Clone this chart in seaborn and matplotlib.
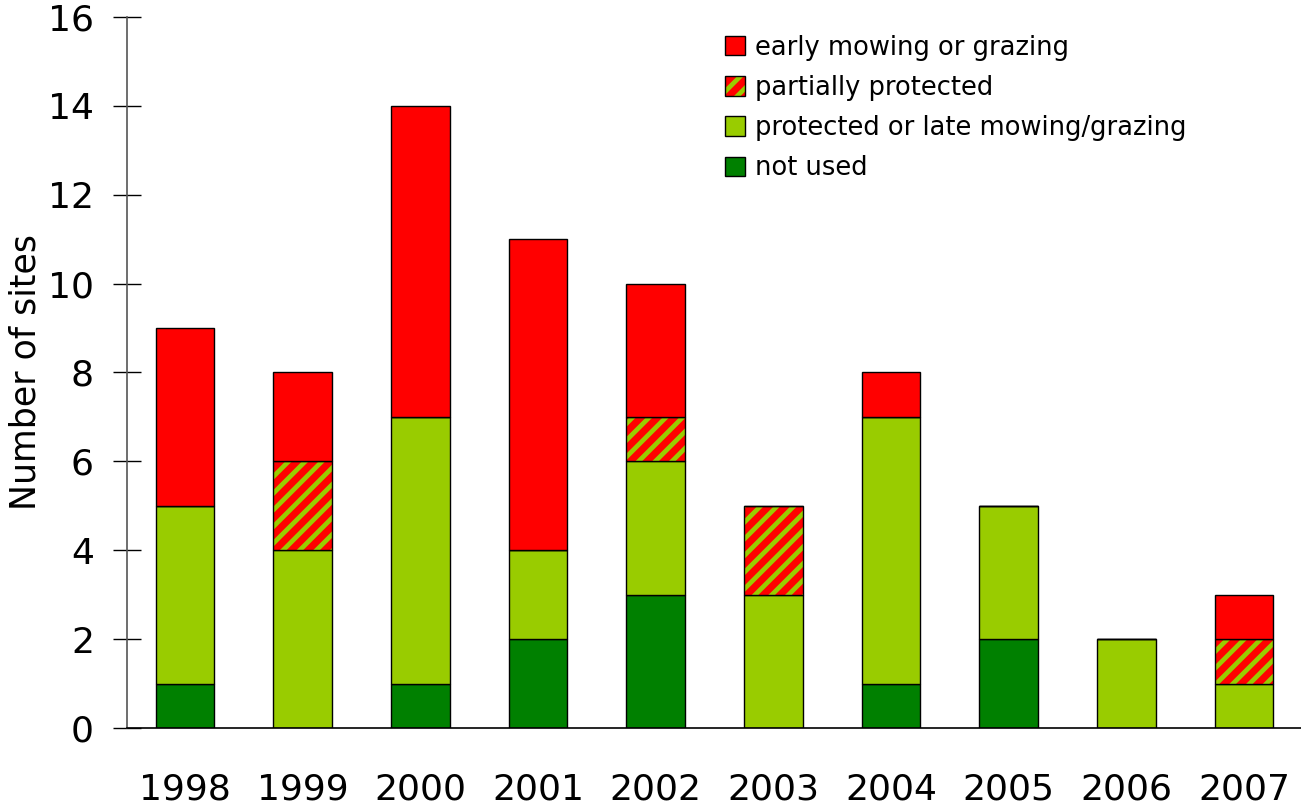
import matplotlib
matplotlib.use("Agg")
import matplotlib.pyplot as plt
import seaborn as sns
import numpy as np
from matplotlib.patches import Patch

# =========================
# Data
# =========================
years = ["1998", "1999", "2000", "2001", "2002", "2003", "2004", "2005", "2006", "2007"]
not_used = [1, 0, 1, 2, 3, 0, 1, 2, 0, 0]
protected_late = [4, 4, 6, 2, 3, 3, 6, 3, 2, 1]
partially = [0, 2, 0, 0, 1, 2, 0, 0, 0, 1]
early = [4, 2, 7, 7, 3, 0, 1, 0, 0, 1]

red = "#FF0000"
light_green = "#99CC00"
dark_green = "#008000"

sns.set_style("white")
plt.rcParams["font.family"] = ["DejaVu Sans"]
plt.rcParams["text.color"] = "black"
plt.rcParams["axes.labelcolor"] = "black"
plt.rcParams["xtick.color"] = "black"
plt.rcParams["ytick.color"] = "black"
plt.rcParams["hatch.linewidth"] = 3.4

fig = plt.figure(figsize=(13.01, 8.08), dpi=100)
ax = fig.add_axes([0.0976, 0.099, 0.9024, 0.880])

b1 = np.array(not_used)
b2 = b1 + np.array(protected_late)
b3 = b2 + np.array(partially)

bar_kw = dict(width=0.5, saturation=1, ax=ax, order=years)

# not used
sns.barplot(x=years, y=not_used, color=dark_green, edgecolor="black", linewidth=1, **bar_kw)
# protected or late mowing/grazing
sns.barplot(x=years, y=protected_late, bottom=b1, color=light_green, edgecolor="black", linewidth=1, **bar_kw)
# partially protected: red face with green stripes, then a black outline on top
sns.barplot(x=years, y=partially, bottom=b2, color=red, edgecolor=light_green, hatch="//", linewidth=0, **bar_kw)
sns.barplot(x=years, y=partially, bottom=b2, color="black", fill=False, edgecolor="black", linewidth=1, **bar_kw)
# early mowing or grazing
sns.barplot(x=years, y=early, bottom=b3, color=red, edgecolor="black", linewidth=1, **bar_kw)

ax.set_xlim(-0.493, 9.484)
ax.set_ylim(0, 16)
ax.set_yticks(range(0, 17, 2))
ax.set_xlabel("")
ax.set_ylabel("Number of sites", fontsize=25, labelpad=4)

for s in ["top", "right"]:
    ax.spines[s].set_visible(False)
ax.spines["left"].set_color("#555555")
ax.spines["left"].set_linewidth(1.2)
ax.spines["bottom"].set_color("black")
ax.spines["bottom"].set_linewidth(1.2)

ax.tick_params(axis="y", direction="inout", length=19.5, width=1, color="black",
               labelsize=26, pad=14, left=True)
ax.tick_params(axis="x", length=0, labelsize=26, pad=32)

# legend
handles = [
    Patch(facecolor=red, edgecolor="black", linewidth=1),
    (Patch(facecolor=red, edgecolor=light_green, hatch="//", linewidth=0),
     Patch(fill=False, edgecolor="black", linewidth=1)),
    Patch(facecolor=light_green, edgecolor="black", linewidth=1),
    Patch(facecolor=dark_green, edgecolor="black", linewidth=1),
]
labels = ["early mowing or grazing", "partially protected",
          "protected or late mowing/grazing", "not used"]
fig.legend(handles, labels, loc="upper left", bbox_to_anchor=(0.557, 0.957),
           frameon=False, fontsize=18.5, handlelength=0.78, handleheight=0.78,
           handletextpad=0.4, labelspacing=0.55, borderpad=0, borderaxespad=0)

fig.savefig("out.png", dpi=100)
